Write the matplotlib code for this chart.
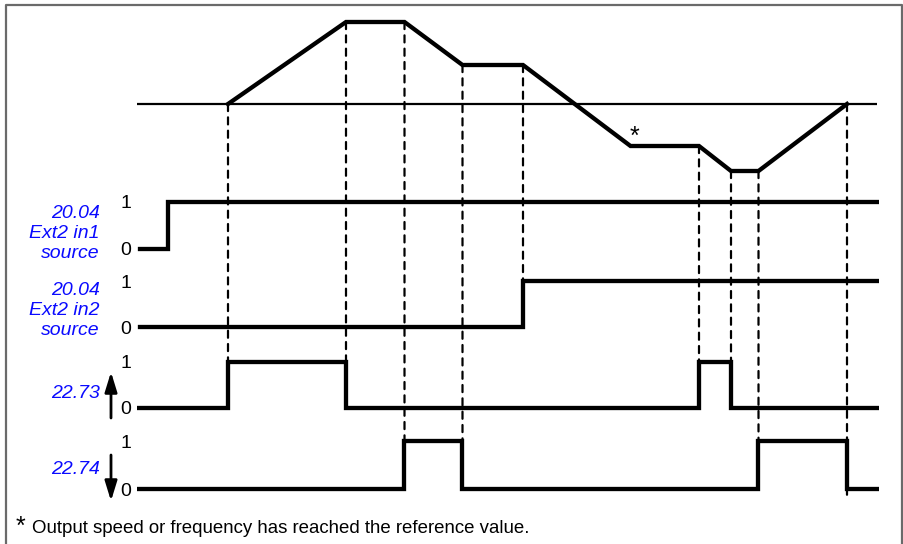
import matplotlib
matplotlib.use("Agg")
import matplotlib.pyplot as plt
from matplotlib.patches import ConnectionPatch, FancyArrowPatch
from matplotlib.lines import Line2D

plt.rcParams['font.family'] = ['Liberation Sans', 'DejaVu Sans']

W, H = 904, 544

# ---------------- data ----------------
# time axis in arbitrary units (0 .. 742)
speed_t = [91, 209, 267.5, 325.5, 386, 493.5, 562, 594, 621.5, 710]
speed_v = [0, 82, 82, 39, 39, -42, -42, -67, -67, 0]   # relative to reference line
ref_t = [0, 740]
ref_v = [0, 0]

in1_t = [3, 31, 740]
in1_v = [0, 1, 1]
in2_t = [3, 386, 740]
in2_v = [0, 1, 1]
s2273_t = [2, 91, 209, 562, 594, 740]
s2273_v = [0, 1, 0, 1, 0, 0]
s2274_t = [0, 267.5, 325.5, 621.5, 710, 742]
s2274_v = [0, 1, 0, 1, 0, 0]

signal_names = ["20.04\nExt2 in1\nsource", "20.04\nExt2 in2\nsource", "22.73", "22.74"]
tick_labels = ["0", "1"]
footnote = "Output speed or frequency has reached the reference value."

# dashed markers: (time, speed at time, signal row index, signal level where line ends)
dash_t = [91, 209, 267.5, 325.5, 386, 562, 594, 621.5, 710]
dash_speed = [0, 82, 82, 39, 39, -42, -67, -67, 0]
dash_row = [2, 2, 3, 3, 1, 2, 2, 3, 3]
dash_level = [1, 1, 1, 1, 1, 1, 0, 1, -0.12]

# ---------------- layout ----------------
fig = plt.figure(figsize=(W / 100, H / 100), dpi=100)

def px_axes(x0, y0, x1, y1):
    return fig.add_axes([x0 / W, 1 - y1 / H, (x1 - x0) / W, (y1 - y0) / H])

XL, XR = 137, 879
XLIM = (0, XR - XL)

ax_speed = px_axes(XL, 15, XR, 180)
ax_speed.set_xlim(*XLIM)
ax_speed.set_ylim(-76, 89)
ax_speed.axis('off')
ax_speed.plot(ref_t, ref_v, color='black', lw=1.6, solid_capstyle='butt')
ax_speed.plot(speed_t, speed_v, color='black', lw=3.1, solid_joinstyle='miter')
ax_speed.annotate('*', xy=(speed_t[5], speed_v[5]), xytext=(4, 2),
                  textcoords='offset pixels', fontsize=18, ha='center', va='baseline')

rows_px = [(202, 249), (281, 327), (362, 408), (441, 489)]
signals = [(in1_t, in1_v), (in2_t, in2_v), (s2273_t, s2273_v), (s2274_t, s2274_v)]
sig_axes = []
for (p1, p0), (t, v) in zip(rows_px, signals):
    d = p0 - p1
    ax = px_axes(XL, p1 - 0.25 * d, XR, p0 + 0.25 * d)
    ax.set_xlim(*XLIM)
    ax.set_ylim(-0.25, 1.25)
    for s in ax.spines.values():
        s.set_visible(False)
    ax.set_xticks([])
    ax.set_yticks([0, 1])
    ax.set_yticklabels(tick_labels, fontsize=14)
    ax.tick_params(axis='y', length=0, pad=4)
    ax.patch.set_alpha(0)
    ax.step(t, v, where='post', color='black', lw=3.1, solid_joinstyle='miter')
    sig_axes.append(ax)

# vertical dashed lines connecting speed events to signal edges
for t, sp, r, lv in zip(dash_t, dash_speed, dash_row, dash_level):
    con = ConnectionPatch(xyA=(t, sp), coordsA=ax_speed.transData,
                          xyB=(t, lv), coordsB=sig_axes[r].transData,
                          color='black', lw=1.6, linestyle=(0, (3.2, 2.8)))
    fig.add_artist(con)

# blue signal names
label_y = [233.5, 310.5, 393, 470]
for name, y in zip(signal_names, label_y):
    fig.text(100 / W, 1 - y / H, name, color='#0a0aff', fontsize=14, style='italic',
             ha='right', va='center', linespacing=1.2)

# arrows for 22.73 (up) and 22.74 (down)
for y_tail, y_tip in [(418, 372), (455, 501)]:
    fig.add_artist(FancyArrowPatch(
        (111 / W, 1 - y_tail / H), (111 / W, 1 - y_tip / H), transform=fig.transFigure,
        arrowstyle='-|>,head_length=12,head_width=3.7', lw=2.0, color='black',
        shrinkA=0, shrinkB=0))

# footnote
fig.text(16 / W, 1 - 527 / H, '*', fontsize=18, ha='left', va='center')
fig.text(32 / W, 1 - 533 / H, footnote, fontsize=13.4, ha='left', va='baseline')

# frame (top, left, right)
fig.add_artist(Line2D([6 / W, 6 / W, 902 / W, 902 / W],
                      [0, 1 - 5 / H, 1 - 5 / H, 0],
                      transform=fig.transFigure, color='#6a6a6a', lw=1.6))

fig.savefig('out.png', dpi=100)
